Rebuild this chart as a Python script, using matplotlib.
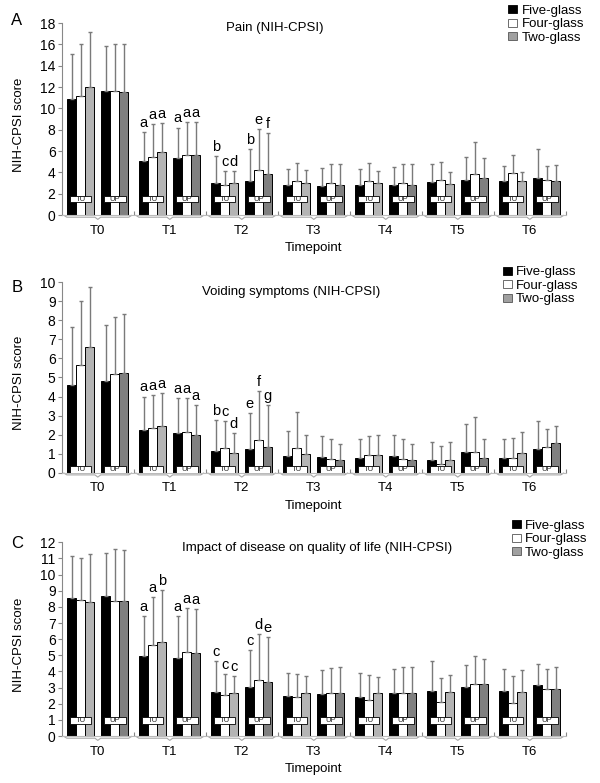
import numpy as np
import matplotlib
matplotlib.use('Agg')
import matplotlib.pyplot as plt
from matplotlib.patches import Patch, Rectangle
from matplotlib.transforms import blended_transform_factory

plt.rcParams['font.family'] = ['Liberation Sans', 'DejaVu Sans']

timepoints = ['T0', 'T1', 'T2', 'T3', 'T4', 'T5', 'T6']
series = ['Five-glass', 'Four-glass', 'Two-glass']

# Pain (NIH-CPSI): rows = five, four, two glass
pain_tu_mean = [[10.84, 5.06, 2.97, 2.78, 2.85, 3.06, 3.2],
                [11.2, 5.4, 2.8, 3.2, 3.15, 3.3, 3.9],
                [11.97, 5.9, 2.97, 2.97, 3.0, 2.9, 3.2]]
pain_tu_sd = [[4.26, 2.74, 2.53, 1.52, 1.45, 1.69, 1.4],
              [4.8, 3.1, 1.3, 1.65, 1.75, 1.7, 1.75],
              [5.23, 2.7, 1.13, 1.23, 1.15, 1.1, 0.8]]
pain_up_mean = [[11.6, 5.3, 3.2, 2.7, 2.85, 3.25, 3.5],
                [11.6, 5.6, 4.2, 3.0, 3.0, 3.8, 3.25],
                [11.5, 5.6, 3.85, 2.8, 2.85, 3.5, 3.15]]
pain_up_sd = [[4.2, 2.9, 3.0, 1.75, 1.65, 2.15, 2.7],
              [4.4, 3.15, 3.9, 1.8, 1.8, 3.0, 1.3],
              [4.5, 3.15, 3.85, 2.0, 1.95, 1.8, 1.5]]
pain_tu_letters = {1: 'aaa', 2: 'bcd'}
pain_up_letters = {1: 'aaa', 2: 'bef'}

# Voiding symptoms (NIH-CPSI)
void_tu_mean = [[4.6, 2.24, 1.16, 0.89, 0.77, 0.65, 0.77],
                [5.66, 2.33, 1.31, 1.3, 0.91, 0.47, 0.75],
                [6.58, 2.47, 1.03, 0.96, 0.95, 0.65, 1.03]]
void_tu_sd = [[3.07, 1.76, 1.59, 1.3, 0.98, 0.98, 1.02],
              [3.34, 1.77, 1.4, 1.9, 1.03, 0.91, 1.05],
              [3.16, 1.73, 1.04, 1.04, 1.05, 0.94, 1.09]]
void_up_mean = [[4.83, 2.1, 1.26, 0.84, 0.86, 1.09, 1.26],
                [5.2, 2.15, 1.72, 0.74, 0.74, 1.1, 1.33],
                [5.24, 1.96, 1.37, 0.65, 0.65, 0.79, 1.54]]
void_up_sd = [[2.91, 1.8, 1.89, 1.09, 1.1, 1.45, 1.47],
              [2.96, 1.75, 2.57, 1.01, 1.01, 1.8, 0.95],
              [3.11, 1.59, 2.2, 0.84, 0.84, 0.96, 0.91]]
void_tu_letters = {1: 'aaa', 2: 'bcd'}
void_up_letters = {1: 'aaa', 2: 'efg'}

# Impact of disease on quality of life (NIH-CPSI)
qol_tu_mean = [[8.53, 4.98, 2.7, 2.5, 2.42, 2.81, 2.81],
               [8.45, 5.62, 2.52, 2.44, 2.25, 2.13, 2.02],
               [8.28, 5.8, 2.67, 2.64, 2.67, 2.7, 2.7]]
qol_tu_sd = [[2.63, 2.44, 1.97, 1.38, 1.46, 1.82, 1.36],
             [2.55, 2.98, 1.3, 1.42, 1.51, 1.47, 1.72],
             [3.02, 3.27, 1.03, 1.06, 1.01, 1.08, 1.37]]
qol_up_mean = [[8.66, 4.86, 3.02, 2.58, 2.64, 3.04, 3.16],
               [8.39, 5.19, 3.45, 2.64, 2.64, 3.24, 2.93],
               [8.39, 5.12, 3.37, 2.64, 2.64, 3.2, 2.89]]
qol_up_sd = [[2.7, 2.56, 2.29, 1.53, 1.51, 1.36, 1.28],
             [3.21, 2.74, 2.87, 1.6, 1.66, 1.74, 1.2],
             [3.11, 2.73, 2.75, 1.66, 1.66, 1.55, 1.37]]
qol_tu_letters = {1: 'aab', 2: 'ccc'}
qol_up_letters = {1: 'aaa', 2: 'cde'}

W = 0.125
TU_LEFT = 0.075
UP_LEFT = 0.55
tu_colors = ['black', 'white', '#b4b4b4']
up_colors = ['black', 'white', '#808080']


def draw_panel(ax, tu_mean, tu_sd, up_mean, up_sd, tu_letters, up_letters,
               ymax, ystep, box_y, ax_h_px):
    n = len(timepoints)
    base = np.arange(n)
    for left, means, sds, colors, letters, tag in [
            (TU_LEFT, tu_mean, tu_sd, tu_colors, tu_letters, 'TU'),
            (UP_LEFT, up_mean, up_sd, up_colors, up_letters, 'UP')]:
        for k in range(3):
            x = base + left + W * (k + 0.5)
            m = np.array(means[k])
            s = np.array(sds[k])
            ax.bar(x, m, width=W, color=colors[k], edgecolor='black',
                   linewidth=0.7, zorder=2)
            ax.errorbar(x, m, yerr=[np.zeros(n), s], fmt='none',
                        ecolor='#7a7a7a', elinewidth=1.0, capsize=1.6,
                        capthick=1.0, zorder=3)
            for t, lab in letters.items():
                ax.annotate(lab[k], (x[t], m[t] + s[t]), xytext=(0, 1.5),
                            textcoords='offset points', ha='center',
                            va='bottom', fontsize=10.5)
        # TU / UP label boxes
        trans = blended_transform_factory(ax.transData, ax.transAxes)
        bh = 6.5 / ax_h_px
        for i in range(n):
            cx = i + left + 1.5 * W
            ax.add_patch(Rectangle((cx - 0.15, box_y - bh / 2), 0.30, bh,
                                   transform=trans, facecolor='white',
                                   edgecolor='black', linewidth=0.6,
                                   zorder=4))
            ax.text(cx, box_y, tag, transform=trans, ha='center',
                    va='center', fontsize=5.5, zorder=5, color='#222222')

    # braces under each timepoint
    trans = blended_transform_factory(ax.transData, ax.transAxes)
    d = 2.2 / ax_h_px
    for i in range(n):
        xs = [i + 0.03, i + 0.07, i + 0.46, i + 0.5, i + 0.54, i + 0.93, i + 0.97]
        ys = [-0.002, -d, -d, -2 * d, -d, -d, -0.002]
        ax.plot(xs, ys, color='#a8a8a8', lw=0.8, transform=trans,
                clip_on=False)

    ax.set_xlim(0, n)
    ax.set_ylim(0, ymax)
    ax.set_yticks(np.arange(0, ymax + 0.01, ystep))
    ax.set_xticks(base + 0.5)
    ax.set_xticklabels(timepoints, fontsize=9.5)
    ax.set_xticks(np.arange(1, n + 1), minor=True)
    ax.tick_params(axis='x', which='major', length=0, pad=7)
    ax.tick_params(axis='x', which='minor', length=3, direction='in',
                   color='#888888', width=0.8)
    ax.tick_params(axis='y', labelsize=10, length=3, width=0.8,
                   color='#888888', pad=1.5)
    for side in ['top', 'right']:
        ax.spines[side].set_visible(False)
    ax.spines['left'].set_color('#888888')
    ax.spines['left'].set_linewidth(0.8)
    ax.spines['bottom'].set_color('#bbbbbb')
    ax.spines['bottom'].set_linewidth(0.8)
    ax.set_ylabel('NIH-CPSI score', fontsize=9.5)
    ax.yaxis.set_label_coords(-37.0 / 504, 0.47)
    ax.set_xlabel('Timepoint', fontsize=9.5)
    ax.xaxis.set_label_coords(0.5, -27.0 / ax_h_px)


fig = plt.figure(figsize=(6, 7.83), dpi=100)

axA = fig.add_axes([0.103, 0.7254, 0.84, 0.2452])
axB = fig.add_axes([0.103, 0.3963, 0.84, 0.2432])
axC = fig.add_axes([0.103, 0.0600, 0.84, 0.2474])

draw_panel(axA, pain_tu_mean, pain_tu_sd, pain_up_mean, pain_up_sd,
           pain_tu_letters, pain_up_letters, 18, 2, 0.083, 192)
draw_panel(axB, void_tu_mean, void_tu_sd, void_up_mean, void_up_sd,
           void_tu_letters, void_up_letters, 10, 1, 0.018, 190)
draw_panel(axC, qol_tu_mean, qol_tu_sd, qol_up_mean, qol_up_sd,
           qol_tu_letters, qol_up_letters, 12, 1, 0.079, 194)

titles = ['Pain (NIH-CPSI)', 'Voiding symptoms (NIH-CPSI)',
          'Impact of disease on quality of life (NIH-CPSI)']
title_pos = [(0.458, 0.964), (0.485, 0.627), (0.528, 0.300)]
for t, (x, y) in zip(titles, title_pos):
    fig.text(x, y, t, ha='center', va='center', fontsize=9.5)

for lab, (x, y) in zip(['A', 'B', 'C'],
                       [(0.028, 0.974), (0.028, 0.633), (0.028, 0.3065)]):
    fig.text(x, y, lab, ha='center', va='center', fontsize=12)

handles = [Patch(facecolor='black', edgecolor='black', linewidth=0.6),
           Patch(facecolor='white', edgecolor='#555555', linewidth=0.6),
           Patch(facecolor='#a0a0a0', edgecolor='#555555', linewidth=0.6)]
for x, y in [(0.847, 0.994), (0.838, 0.660), (0.853, 0.336)]:
    fig.legend(handles, series, loc='upper left', bbox_to_anchor=(x, y),
               frameon=False, fontsize=9.5, handlelength=0.7,
               handleheight=0.55, handletextpad=0.3, labelspacing=0.12,
               borderpad=0, borderaxespad=0)

fig.savefig('out.png', dpi=100)
